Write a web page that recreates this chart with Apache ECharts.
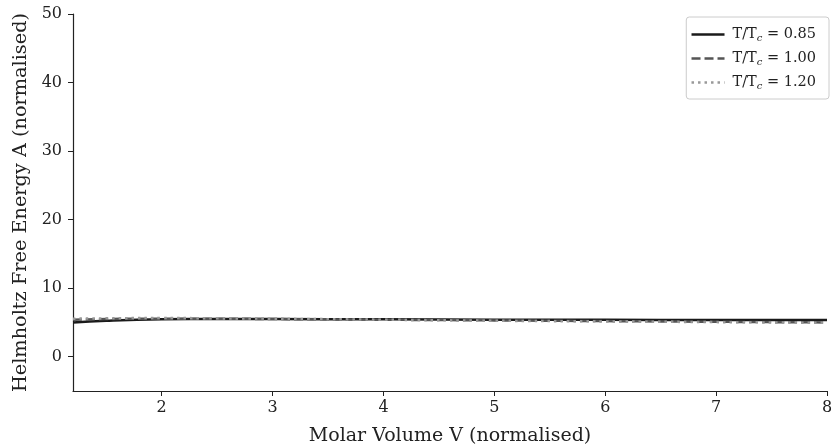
<!DOCTYPE html>
<html>
<head>
<meta charset="utf-8">
<script src="https://cdn.jsdelivr.net/npm/echarts@6/dist/echarts.min.js"></script>
<style>
html,body{margin:0;padding:0;background:#fff;}
#chart{width:831px;height:445px;}
</style>
</head>
<body>
<div id="chart"></div>
<script>
var volumes = [1.2, 1.5, 2, 2.5, 3, 4, 5, 6, 7, 8];
var seriesNames = ['T/T{c|c} = 0.85', 'T/T{c|c} = 1.00', 'T/T{c|c} = 1.20'];
var energy085 = [5.0, 5.25, 5.45, 5.5, 5.5, 5.45, 5.4, 5.4, 5.35, 5.35];
var energy100 = [5.4, 5.5, 5.55, 5.55, 5.5, 5.4, 5.3, 5.2, 5.1, 5.0];
var energy120 = [5.55, 5.6, 5.65, 5.6, 5.55, 5.4, 5.25, 5.15, 5.05, 4.95];
var xTicks = [2, 3, 4, 5, 6, 7, 8];
var yTicks = [0, 10, 20, 30, 40, 50];

function pairs(ys) { return volumes.map(function (v, i) { return [v, ys[i]]; }); }

var font = 'DejaVu Serif';
var chart = echarts.init(document.getElementById('chart'), null, {renderer: 'canvas'});
chart.setOption({
  animation: false,
  backgroundColor: '#ffffff',
  grid: {left: 73, right: 4, top: 14, bottom: 54, containLabel: false, outerBoundsMode: 'none'},
  xAxis: {
    type: 'value', min: 1.2, max: 8,
    name: 'Molar Volume V (normalised)', nameLocation: 'middle', nameGap: 36,
    nameTextStyle: {fontFamily: font, fontSize: 19, color: '#222'},
    axisLine: {show: true, onZero: false, lineStyle: {color: '#222', width: 1.2}},
    axisTick: {show: true, customValues: xTicks, length: 5, lineStyle: {color: '#222'}},
    axisLabel: {customValues: xTicks, fontFamily: font, fontSize: 16, color: '#222', margin: 9},
    splitLine: {show: false}
  },
  yAxis: {
    type: 'value', min: -5, max: 50,
    name: 'Helmholtz Free Energy A (normalised)', nameLocation: 'middle', nameGap: 41,
    nameTextStyle: {fontFamily: font, fontSize: 19.3, color: '#222'},
    axisLine: {show: true, onZero: false, lineStyle: {color: '#222', width: 1.2}},
    axisTick: {show: true, customValues: yTicks, length: 5, lineStyle: {color: '#222'}},
    axisLabel: {customValues: yTicks, fontFamily: font, fontSize: 16, color: '#222', margin: 11},
    splitLine: {show: false}
  },
  legend: {
    right: 2, top: 17, orient: 'vertical',
    itemWidth: 33, itemHeight: 14, itemGap: 8,
    padding: [10, 13, 8, 4],
    borderColor: '#cccccc', borderWidth: 1, borderRadius: 3,
    backgroundColor: '#ffffff',
    itemStyle: {opacity: 0},
    lineStyle: {width: 2.5},
    textStyle: {fontFamily: font, fontSize: 14.5, color: '#222', padding: [0, 0, 0, 3],
      rich: {c: {fontFamily: font, fontStyle: 'italic', fontSize: 10, color: '#222', verticalAlign: 'bottom', padding: [7, 0, 0, 0]}}},
    data: seriesNames
  },
  series: [
    {name: seriesNames[0], type: 'line', data: pairs(energy085), symbol: 'none', smooth: true,
      lineStyle: {color: '#1a1a1a', width: 2.5, type: 'solid'}, itemStyle: {color: '#1a1a1a'}, z: 3},
    {name: seriesNames[1], type: 'line', data: pairs(energy100), symbol: 'none', smooth: true,
      lineStyle: {color: '#555555', width: 2.5, type: [9, 4]}, itemStyle: {color: '#555555'}, z: 4},
    {name: seriesNames[2], type: 'line', data: pairs(energy120), symbol: 'none', smooth: true,
      lineStyle: {color: '#999999', width: 2.5, type: [2.5, 4]}, itemStyle: {color: '#999999'}, z: 5}
  ]
});
</script>
</body>
</html>
